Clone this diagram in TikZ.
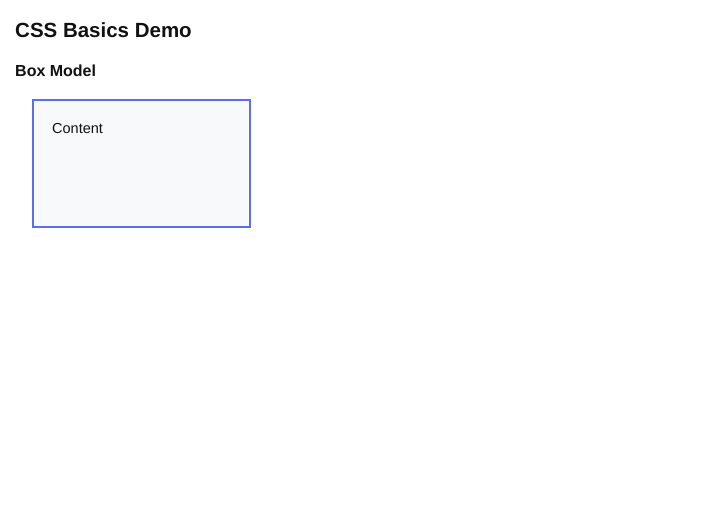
\documentclass[tikz,border=0pt]{standalone}
\usepackage{fontspec}
\setmainfont{Liberation Sans}
\definecolor{boxborder}{HTML}{5B6EF0}
\definecolor{boxfill}{HTML}{F8F9FB}
\definecolor{ink}{HTML}{111111}
\tikzset{
  heading/.style={anchor=base west, inner sep=0pt, text=ink, font=\bfseries\fontsize{20.5}{24}\selectfont},
  subheading/.style={anchor=base west, inner sep=0pt, text=ink, font=\bfseries\fontsize{16}{19}\selectfont},
  bodytext/.style={anchor=base west, inner sep=0pt, text=ink, font=\fontsize{14.5}{17}\selectfont},
  boxmodel/.style={draw=boxborder, line width=2pt, fill=boxfill}
}
\begin{document}
\begin{tikzpicture}[x=1pt,y=-1pt]
\useasboundingbox (0,0) rectangle (708,516);
\fill[white] (0,0) rectangle (708,516);
\node[heading] (title) at (15,38) {CSS Basics Demo};
\node[subheading] (sub) at (15,77) {Box Model};
\draw[boxmodel] (33,100) rectangle (250,227);
\node[bodytext] (content) at (52,133) {Content};
\end{tikzpicture}
\end{document}
